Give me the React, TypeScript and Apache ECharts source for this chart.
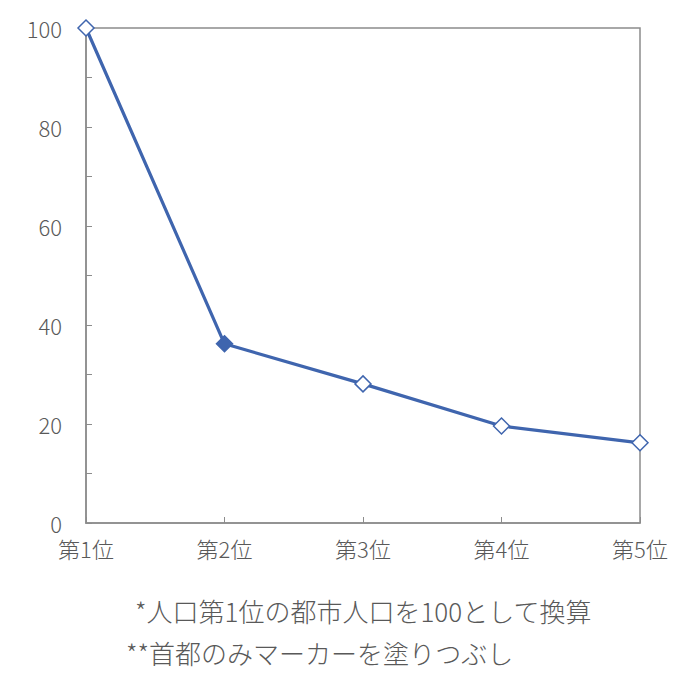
import React, { useEffect, useRef } from 'react';
import * as echarts from 'echarts';

const categories = ['第1位', '第2位', '第3位', '第4位', '第5位'];
const values = [100, 36.2, 28.1, 19.6, 16.2];
// index of the capital city (filled marker)
const capitalIndex = 1;
const notes = ['*人口第1位の都市人口を100として換算', '**首都のみマーカーを塗りつぶし'];

const LINE = '#3F65AE';
const TEXT = '#595959';
const FONT = '"Noto Sans CJK JP", "Noto Sans", sans-serif';

const App: React.FC = () => {
  const chartRef = useRef<HTMLDivElement>(null);

  useEffect(() => {
    if (!chartRef.current) return;
    const chart = echarts.init(chartRef.current, undefined, { renderer: 'svg' });

    const option: echarts.EChartsOption = {
      animation: false,
      textStyle: { fontFamily: FONT },
      grid: {
        left: 86,
        right: 60,
        top: 28,
        bottom: 172,
        show: true,
        borderColor: '#8c8c8c',
        borderWidth: 1.5,
        backgroundColor: 'transparent',
      },
      xAxis: {
        type: 'category',
        data: categories,
        boundaryGap: false,
        axisLine: { lineStyle: { color: '#8c8c8c', width: 1.5 } },
        axisTick: { show: true, inside: true, length: 6, lineStyle: { color: '#8c8c8c' } },
        axisLabel: { color: TEXT, fontSize: 22, fontWeight: 300, margin: 14, fontFamily: FONT },
        splitLine: { show: false },
      },
      yAxis: {
        type: 'value',
        min: 0,
        max: 100,
        interval: 20,
        axisLine: { show: true, lineStyle: { color: '#8c8c8c', width: 1.5 } },
        axisTick: { show: true, inside: true, length: 6, lineStyle: { color: '#8c8c8c' } },
        minorTick: { show: true, splitNumber: 2, length: 6, lineStyle: { color: '#8c8c8c' } },
        axisLabel: { color: TEXT, fontSize: 22, fontWeight: 300, margin: 24, fontFamily: FONT },
        splitLine: { show: false },
      },
      series: [
        {
          type: 'line',
          data: values.map((v, i) => ({
            value: v,
            itemStyle: {
              color: i === capitalIndex ? LINE : '#ffffff',
              borderColor: LINE,
              borderWidth: 1.5,
            },
          })),
          symbol: 'diamond',
          symbolSize: 16,
          lineStyle: { color: LINE, width: 3.2 },
          z: 3,
        },
      ],
      graphic: [
        {
          type: 'text',
          x: 135,
          y: 610,
          style: { text: notes[0], fill: TEXT, font: `300 26px ${FONT}`, verticalAlign: 'middle' },
        },
        {
          type: 'text',
          x: 126,
          y: 652,
          style: { text: notes[1], fill: TEXT, font: `300 26px ${FONT}`, verticalAlign: 'middle' },
        },
      ],
    };

    chart.setOption(option);
    return () => {
      chart.dispose();
    };
  }, []);

  return <div ref={chartRef} style={{ width: '700px', height: '695px', margin: '-8px' }} />;
};

export default App;
